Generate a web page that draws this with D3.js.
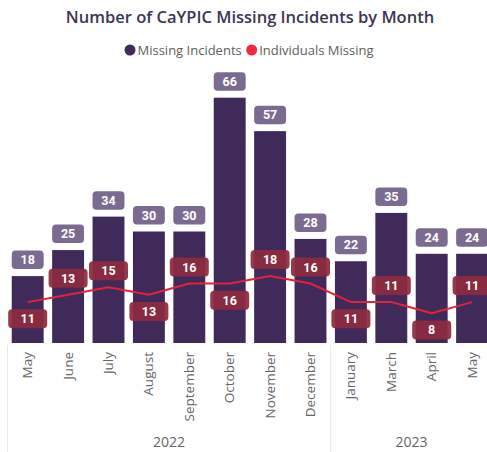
<!DOCTYPE html>
<meta charset="utf-8">
<style>
    body { margin: 0; background: #fff; }
    text { font-family: "Open Sans", sans-serif; }
    .tick-label { font-size: 13.5px; fill: #666; }
    .num { font-family: Roboto, sans-serif; font-weight: 700; font-size: 12.5px; fill: #fff; }
</style>
<body></body>
<script src="https://d3js.org/d3.v7.min.js"></script>
<script>
    // data
    const months = ["May", "June", "July", "August", "September", "October", "November", "December", "January", "March", "April", "May"];
    const years = ["2022", "2022", "2022", "2022", "2022", "2022", "2022", "2022", "2023", "2023", "2023", "2023"];
    const incidents = [18, 25, 34, 30, 30, 66, 57, 28, 22, 35, 24, 24];
    const individuals = [11, 13, 15, 13, 16, 16, 18, 16, 11, 11, 8, 11];

    const width = 487, height = 452;
    const keys = months.map((m, i) => m + " " + years[i]);

    const svg = d3.select("body").append("svg")
        .attr("width", width)
        .attr("height", height);

    // scales
    const x = d3.scaleBand()
        .domain(keys)
        .range([7.5, 492.3])
        .paddingInner(0.21)
        .paddingOuter(0.105);

    const y = d3.scaleLinear()
        .domain([0, d3.max(incidents)])
        .range([343, 97.7]);

    const cx = i => x(keys[i]) + x.bandwidth() / 2;

    // title
    svg.append("text")
        .attr("x", 250).attr("y", 23)
        .attr("text-anchor", "middle")
        .style("font-size", "16.5px").style("font-weight", 600)
        .style("fill", "#3b3553")
        .text("Number of CaYPIC Missing Incidents by Month");

    // legend
    const legend = [
        {name: "Missing Incidents", color: "#3f2a59", x: 130},
        {name: "Individuals Missing", color: "#ee2a3c", x: 251.7}
    ];
    legend.forEach(l => {
        svg.append("circle").attr("cx", l.x).attr("cy", 50).attr("r", 5.5).attr("fill", l.color);
        svg.append("text").attr("x", l.x + 7.5).attr("y", 54.5)
            .style("font-size", "13px").style("fill", "#605e5c")
            .text(l.name);
    });

    // bars
    svg.selectAll(".bar")
        .data(incidents)
        .enter().append("rect")
        .attr("class", "bar")
        .attr("x", (d, i) => x(keys[i]))
        .attr("y", d => y(d))
        .attr("width", x.bandwidth())
        .attr("height", d => y(0) - y(d))
        .attr("fill", "#3f2a59");

    // bar value labels
    const vl = svg.selectAll(".vlab").data(incidents).enter().append("g");
    vl.append("rect")
        .attr("x", (d, i) => x(keys[i]))
        .attr("y", d => y(d) - 7 - 18.5)
        .attr("width", x.bandwidth())
        .attr("height", 18.5)
        .attr("rx", 4)
        .attr("fill", "#7b6b91");
    vl.append("text")
        .attr("class", "num")
        .attr("x", (d, i) => cx(i))
        .attr("y", d => y(d) - 7 - 9.25)
        .attr("dy", "0.36em")
        .attr("text-anchor", "middle")
        .text(d => d);

    // line
    const line = d3.line()
        .x((d, i) => cx(i))
        .y(d => y(d));
    svg.append("path")
        .datum(individuals)
        .attr("d", line)
        .attr("fill", "none")
        .attr("stroke", "#e8203a")
        .attr("stroke-width", 2);

    // line value labels, placed above or below the point like the original
    const below = new Set([0, 3, 5, 8, 10]);
    const ll = svg.selectAll(".llab").data(individuals).enter().append("g")
        .attr("transform", (d, i) => "translate(" + cx(i) + "," + (y(d) + (below.has(i) ? 16.7 : -16.5)) + ")");
    ll.append("rect")
        .attr("x", -19.5).attr("y", -9.5)
        .attr("width", 39).attr("height", 19)
        .attr("rx", 4)
        .attr("fill", "#8e2a40")
        .attr("fill-opacity", 0.93);
    ll.append("text")
        .attr("class", "num")
        .attr("dy", "0.36em")
        .attr("text-anchor", "middle")
        .text(d => d);

    // month labels
    svg.selectAll(".tick-label")
        .data(months)
        .enter().append("text")
        .attr("class", "tick-label")
        .attr("text-anchor", "end")
        .attr("transform", (d, i) => "translate(" + (cx(i) + 4.5) + ",352) rotate(-90)")
        .text(d => d);

    // year groups
    const groups = d3.groups(keys.map((k, i) => ({k, year: years[i]})), d => d.year);
    groups.forEach(([yr, items]) => {
        const x0 = x(items[0].k) - x.step() * x.paddingInner() / 2;
        const x1 = x(items[items.length - 1].k) + x.bandwidth() + x.step() * x.paddingInner() / 2;
        svg.append("line")
            .attr("x1", x0).attr("x2", x0)
            .attr("y1", 345).attr("y2", height)
            .attr("stroke", "#e6e6e6");
        svg.append("text")
            .attr("class", "tick-label")
            .attr("x", (x0 + x1) / 2).attr("y", 446.5)
            .attr("text-anchor", "middle")
            .style("font-size", "14px")
            .text(yr);
    });
</script>
